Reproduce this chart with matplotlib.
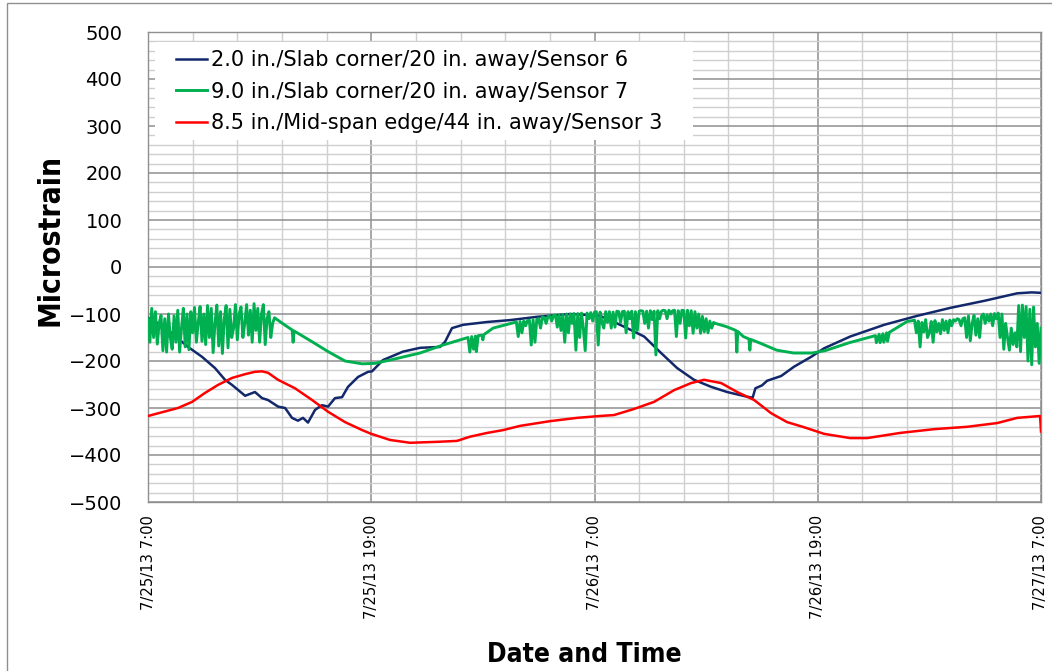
import numpy as np
import matplotlib.pyplot as plt
from matplotlib.patches import Rectangle
from matplotlib.ticker import FixedLocator, MultipleLocator

# ---- axis layout data (hours after 7/25/13 7:00) ----
TICK_HOURS = [0, 12, 24, 36, 48]
TICK_LABELS = ["7/25/13 7:00", "7/25/13 19:00", "7/26/13 7:00",
               "7/26/13 19:00", "7/27/13 7:00"]

SERIES_NAMES = [
    "2.0 in./Slab corner/20 in. away/Sensor 6",
    "9.0 in./Slab corner/20 in. away/Sensor 7",
    "8.5 in./Mid-span edge/44 in. away/Sensor 3",
]

# ---- sensor 6 ----
s6_hours = [0, 0.54, 1.29, 2.15, 2.9, 3.6, 4.14, 4.52, 5.22, 5.75, 6.13, 6.45,
            6.99, 7.37, 7.74, 8.06, 8.33, 8.6, 8.98, 9.35, 9.68, 10.05, 10.43,
            10.75, 11.29, 11.83, 12.04, 12.63, 13.71, 14.62, 15.7, 15.97, 16.34,
            16.94, 18.23, 19.46, 20.91, 22.69, 23.6, 24.3, 25.05, 25.75, 26.67,
            27.58, 28.44, 29.35, 30.27, 31.13, 32.2, 32.5, 32.65, 33.0, 33.28,
            34.03, 34.73, 35.65, 36.34, 37.74, 39.57, 41.34, 43.12, 44.95,
            46.72, 47.5, 48]
s6_strain = [-108, -120, -141, -170, -191, -215, -240, -251, -274, -266, -279,
             -283, -297, -300, -321, -327, -321, -331, -304, -294, -297, -279,
             -277, -255, -234, -223, -222, -198, -180, -172, -170, -159, -130,
             -123, -117, -113, -106, -100, -102, -104, -117, -130, -148, -183,
             -215, -240, -255, -266, -276, -278, -258, -252, -242, -232, -212,
             -191, -173, -148, -123, -104, -87, -72, -56, -54, -55]

# ---- sensor 3 ----
s3_hours = [0, 1.61, 2.37, 3.06, 3.76, 4.52, 5.22, 5.75, 6.13, 6.45, 6.99, 7.9,
            8.82, 9.68, 10.59, 11.51, 12.0, 13.01, 14.09, 15.54, 16.61, 17.31,
            18.23, 19.09, 20.0, 21.61, 23.06, 24.3, 25.05, 26.13, 27.2, 28.28,
            29.19, 29.89, 30.81, 31.67, 32.58, 33.49, 34.35, 35.27, 36.34,
            37.74, 38.66, 40.43, 42.26, 44.03, 45.65, 46.72, 47.95, 48.0]
s3_strain = [-317, -300, -287, -268, -251, -236, -228, -223, -222, -225, -240,
             -258, -283, -308, -330, -347, -355, -368, -374, -372, -370, -361,
             -353, -347, -338, -328, -321, -317, -315, -302, -287, -262, -247,
             -240, -247, -266, -283, -311, -330, -341, -355, -364, -364, -353,
             -345, -340, -332, -321, -317, -350]

# ---- sensor 7 (noisy stretches logged every 0.1 h) ----
LOG_STEP = 0.1

s7_morning_start = 0.0
s7_morning = [-110, -160, -88, -150, -95, -164, -120, -103, -178, -110,
              -181, -100, -150, -175, -104, -160, -92, -181, -130, -88,
              -170, -100, -176, -95, -140, -86, -160, -118, -84, -158,
              -100, -165, -82, -150, -88, -182, -120, -81, -168, -95,
              -184, -110, -82, -172, -90, -150, -130, -80, -155, -100,
              -85, -150, -120, -80, -145, -92, -160, -78, -135, -88,
              -160, -100, -80, -165, -110, -95, -150, -120]

s7_day1_hours = [6.8, 7.3, 7.75, 7.8, 7.85, 8.82, 9.68, 10.59, 11.51, 12.2,
                 13.01, 14.62, 15.86, 17.2, 17.3, 17.4, 17.5, 17.6, 17.65,
                 17.75, 17.95, 18.0, 18.05, 18.55, 19.7]
s7_day1 = [-108, -122, -134, -160, -136, -159, -180, -200, -206, -205,
           -198, -183, -166, -150, -181, -148, -175, -147, -180,
           -146, -145, -155, -144, -130, -118]

s7_midday_start = 19.8
s7_midday = [-117, -148, -116, -140, -115, -125, -114, -113, -166, -112,
             -160, -111, -110, -130, -106, -108, -120, -105, -104, -115,
             -103, -102, -128, -102, -135, -101, -160, -100, -140, -100,
             -120, -99, -177, -99, -150, -98, -130, -178, -98, -110,
             -97, -115, -96, -95, -166, -96, -118, -130, -95, -118,
             -95, -130, -96, -128, -94, -95, -118, -95, -94, -140,
             -95, -110, -94, -151, -95, -135, -94, -93, -94, -120,
             -94, -130, -93, -112, -94, -187, -93, -110, -94, -92,
             -93, -110, -92, -100, -93, -92, -148, -93, -120, -92,
             -93, -151, -92, -125, -93, -141, -95, -130, -100, -141,
             -105, -138, -110, -140, -115, -130, -118]

s7_day2_hours = [30.5, 31.1, 31.6, 31.65, 31.7, 32.0, 32.3, 32.35, 32.4, 32.9,
                 33.8, 34.7, 35.7, 36.4, 37.7, 39.1, 39.15, 39.3, 39.35, 39.5,
                 39.55, 39.7, 39.75, 39.85, 40.8, 41.1]
s7_day2 = [-120, -127, -135, -181, -137, -148, -153, -177, -154, -162,
           -177, -183, -183, -178, -161, -146, -161, -143, -161, -142,
           -160, -140, -158, -139, -116, -114]

s7_late_start = 41.2
s7_late = [-113, -140, -115, -170, -118, -138, -112, -150, -140, -116,
           -160, -114, -138, -120, -142, -112, -135, -115, -140, -113,
           -125, -112, -115,
           -110, -112, -125, -110, -108,
           -150, -104, -157, -120, -103, -145, -110, -150, -105,
           -100, -120, -102, -115, -100, -125, -99, -110, -98,
           -150, -100, -175, -120,
           -150, -177, -130, -165, -140, -170,
           -82, -180, -81, -150, -84, -200, -90,
           -208, -85, -170, -120,
           -205, -130]


def logged_hours(start, values):
    return start + LOG_STEP * np.arange(len(values))


s7_hours = np.concatenate([
    logged_hours(s7_morning_start, s7_morning),
    s7_day1_hours,
    logged_hours(s7_midday_start, s7_midday),
    s7_day2_hours,
    logged_hours(s7_late_start, s7_late),
])
s7_strain = np.concatenate([s7_morning, s7_day1, s7_midday, s7_day2, s7_late])

COLORS = ["#13286B", "#00B050", "#FF0000"]

# ---- figure ----
plt.rcParams["font.family"] = ["DejaVu Sans"]
fig = plt.figure(figsize=(10.52, 6.71), dpi=100)
ax = fig.add_axes([148 / 1052, 1 - 502 / 671, 893 / 1052, 470 / 671])

ax.plot(s6_hours, s6_strain, color=COLORS[0], lw=1.8, label=SERIES_NAMES[0], zorder=3)
ax.plot(s7_hours, s7_strain, color=COLORS[1], lw=2.1, label=SERIES_NAMES[1], zorder=3)
ax.plot(s3_hours, s3_strain, color=COLORS[2], lw=1.8, label=SERIES_NAMES[2], zorder=3)

ax.set_xlim(0, 48)
ax.set_ylim(-500, 500)

ax.xaxis.set_major_locator(FixedLocator(TICK_HOURS))
ax.set_xticklabels(TICK_LABELS, rotation=90, fontsize=10.6, va="top", ha="center")
ax.xaxis.set_minor_locator(FixedLocator(np.arange(0, 48.01, 2.4)))
ax.yaxis.set_major_locator(MultipleLocator(100))
ax.yaxis.set_minor_locator(MultipleLocator(20))
ax.tick_params(axis="y", which="major", labelsize=14, pad=18.5, length=0)
ax.tick_params(axis="x", which="major", pad=9.5, length=0)
ax.tick_params(which="minor", length=0)

ax.set_axisbelow(True)
ax.grid(which="minor", color="#CFCFCF", lw=1.0)
ax.grid(which="major", color="#8F8F8F", lw=1.1)
for sp in ax.spines.values():
    sp.set_color("#8F8F8F")
    sp.set_linewidth(1.0)

# white patch behind the legend
ax.add_patch(Rectangle((7 / 893, 362 / 470), 538 / 893, 98 / 470,
                       transform=ax.transAxes, facecolor="white",
                       edgecolor="none", zorder=2))
ax.legend(loc="upper left", bbox_to_anchor=(28 / 893, 452 / 470), frameon=False,
          borderpad=0, borderaxespad=0, handlelength=1.5, handletextpad=0.2,
          labelspacing=0.56, fontsize=15)

fig.text(50 / 1052, 1 - 240 / 671, "Microstrain", rotation=90, ha="center",
         va="center", fontsize=21.5, fontweight="bold", fontstretch="condensed")
fig.text(584 / 1052, 1 - 655 / 671, "Date and Time", ha="center", va="center",
         fontsize=19, fontweight="bold", fontstretch="condensed")

# chart border
fig.patches.append(Rectangle((7 / 1052, -0.01), 1.1, 1.01 - 3 / 671,
                             transform=fig.transFigure, fill=False,
                             edgecolor="#8F8F8F", lw=1.0))

fig.savefig("out.png", dpi=100)
